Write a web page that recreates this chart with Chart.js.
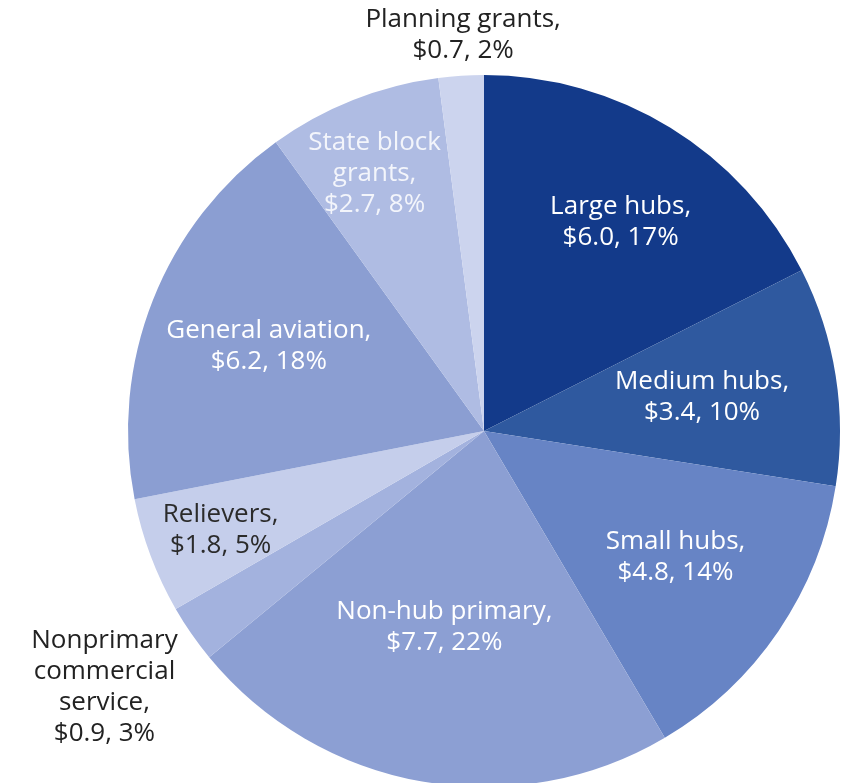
<!DOCTYPE html>
<html>
<head>
<meta charset="utf-8">
<script src="https://cdn.jsdelivr.net/npm/chart.js@4/dist/chart.umd.min.js"></script>
<style>
  html, body { margin: 0; padding: 0; background: #fff; overflow: hidden; }
  #wrap { width: 851px; height: 800px; }
</style>
</head>
<body>
<div id="wrap"><canvas id="pie" width="851" height="800"></canvas></div>
<script>
// AIP funding by category ($ billions)
const labels = ['Large hubs', 'Medium hubs', 'Small hubs', 'Non-hub primary',
  'Nonprimary commercial service', 'Relievers', 'General aviation',
  'State block grants', 'Planning grants'];
const amounts = [6.0, 3.4, 4.8, 7.7, 0.9, 1.8, 6.2, 2.7, 0.7];
const shares = [17, 10, 14, 22, 3, 5, 18, 8, 2];
const sliceColors = ['#133a8a', '#2f599f', '#6784c5', '#8c9fd3', '#a3b2de',
  '#c5ceeb', '#8b9ed2', '#afbce3', '#ccd4ee'];

// how each label is written (line breaks) and coloured
const labelLines = [
  ['Large hubs,'], ['Medium hubs,'], ['Small hubs,'], ['Non-hub primary,'],
  ['Nonprimary', 'commercial', 'service,'], ['Relievers,'], ['General aviation,'],
  ['State block', 'grants,'], ['Planning grants,']
];
const labelColor = ['#fff', '#fff', '#fff', '#fff', '#222', '#2b2b2b', '#fff', '#f3f5fb', '#222'];

// placement: fraction of radius along mid angle, plus nudge
const place = [
  { f: 0.69, dx: 8, dy: 0 }, { f: 0.62, dx: 0, dy: 0 }, { f: 0.63, dx: 6, dy: 0 },
  { f: 0.56, dx: -5, dy: 0 }, { f: 1.0, dx: -87, dy: 53 }, { f: 0.79, dx: 0, dy: 0 },
  { f: 0.65, dx: 0, dy: 0 }, { f: 0.79, dx: -6, dy: 4 }, { f: 1.0, dx: 2, dy: -41 }
];

const sliceLabels = {
  id: 'sliceLabels',
  afterDatasetsDraw(chart) {
    const ctx = chart.ctx;
    const meta = chart.getDatasetMeta(0);
    ctx.save();
    ctx.font = '26px "Open Sans", "Noto Sans", sans-serif';
    ctx.textAlign = 'center';
    ctx.textBaseline = 'middle';
    meta.data.forEach((arc, i) => {
      const p = arc.getProps(['x', 'y', 'startAngle', 'endAngle', 'outerRadius'], true);
      const mid = (p.startAngle + p.endAngle) / 2;
      const r = p.outerRadius * place[i].f;
      const cx = p.x + Math.cos(mid) * r + place[i].dx;
      const cy = p.y + Math.sin(mid) * r + place[i].dy;
      const lines = [...labelLines[i], `$${amounts[i].toFixed(1)}, ${shares[i]}%`];
      const lh = 31;
      const top = cy - (lines.length - 1) * lh / 2;
      ctx.fillStyle = labelColor[i];
      lines.forEach((t, k) => ctx.fillText(t, cx, top + k * lh));
    });
    ctx.restore();
  }
};

new Chart(document.getElementById('pie'), {
  type: 'pie',
  data: {
    labels: labels,
    datasets: [{ data: amounts, backgroundColor: sliceColors, borderWidth: 0 }]
  },
  options: {
    responsive: false,
    animation: false,
    layout: { padding: { left: 128, right: 11, top: 75, bottom: 13 } },
    plugins: { legend: { display: false }, tooltip: { enabled: false } }
  },
  plugins: [sliceLabels]
});
</script>
</body>
</html>
